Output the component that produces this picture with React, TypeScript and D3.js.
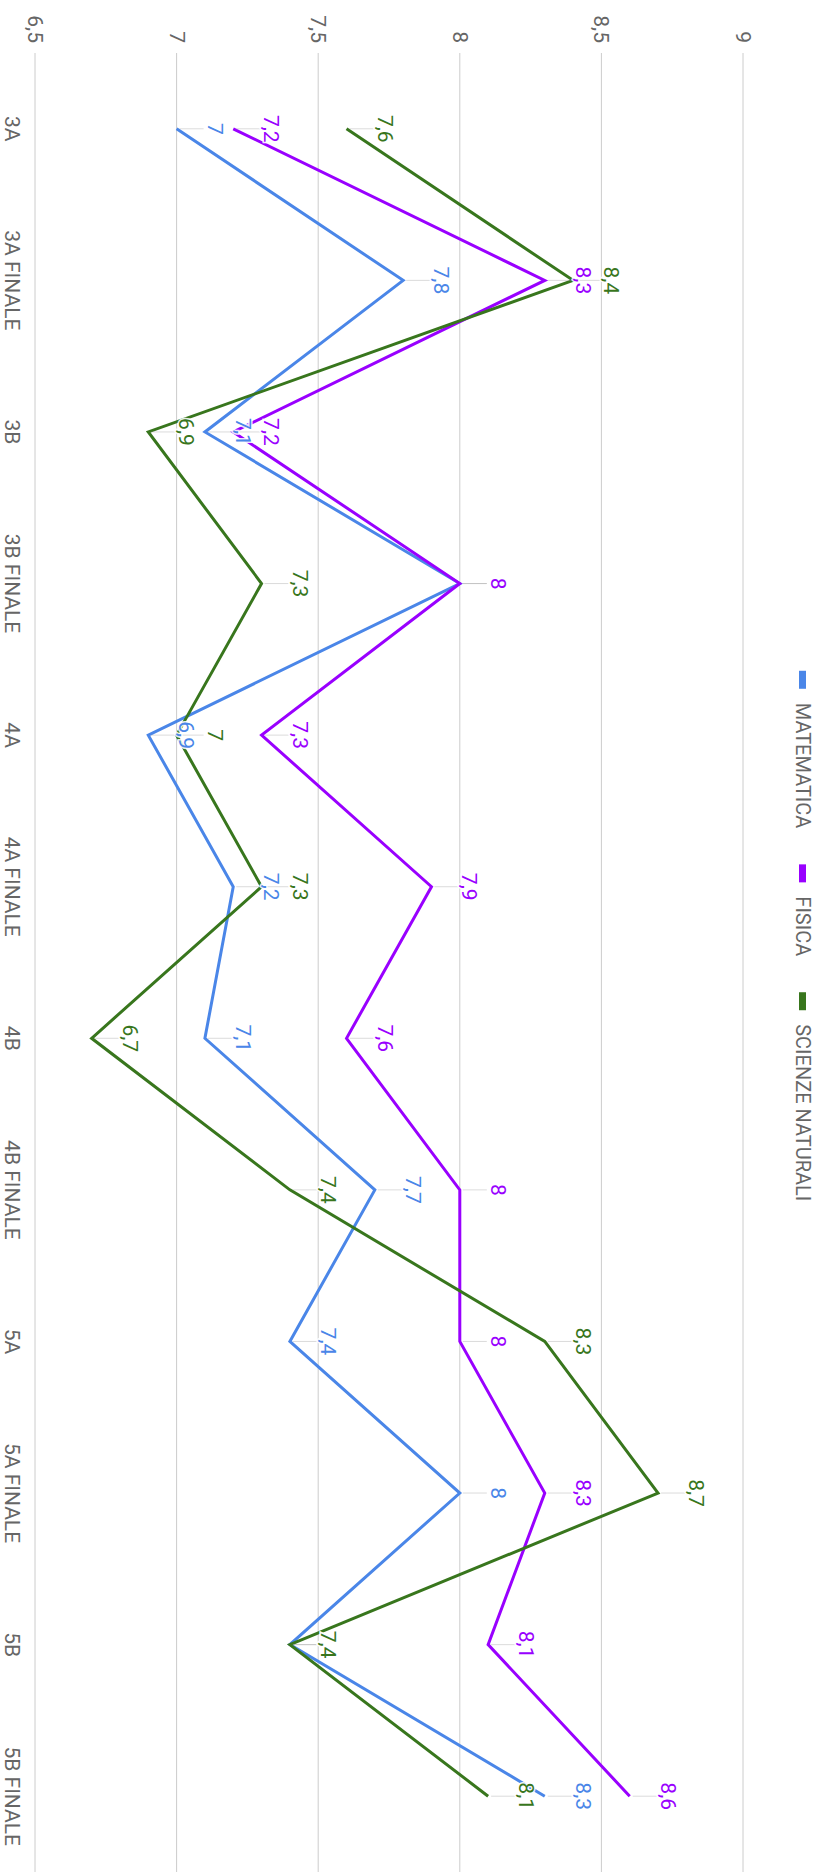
import React from 'react';
import * as d3 from 'd3';

const categories = ['3A', '3A FINALE', '3B', '3B FINALE', '4A', '4A FINALE', '4B', '4B FINALE', '5A', '5A FINALE', '5B', '5B FINALE'];
const matematica = [7, 7.8, 7.1, 8, 6.9, 7.2, 7.1, 7.7, 7.4, 8, 7.4, 8.3];
const fisica = [7.2, 8.3, 7.2, 8, 7.3, 7.9, 7.6, 8, 8, 8.3, 8.1, 8.6];
const scienze = [7.6, 8.4, 6.9, 7.3, 7, 7.3, 6.7, 7.4, 8.3, 8.7, 7.4, 8.1];
const seriesNames = ['MATEMATICA', 'FISICA', 'SCIENZE NATURALI'];
const seriesColors = ['#4a86e8', '#9900ff', '#38761d'];
const yTicks = [6.5, 7, 7.5, 8, 8.5, 9];

const FONT = 'Roboto, Arial, sans-serif';
const W = 1872; // original (unrotated) width
const H = 826;  // original (unrotated) height

const fmt = (v: number) => String(v).replace('.', ',');

function measure(text: string, size: number): number {
  try {
    const c = document.createElement('canvas').getContext('2d');
    if (c) {
      c.font = `${size}px Roboto`;
      return c.measureText(text).width;
    }
  } catch (e) {}
  return text.length * size * 0.6;
}

export default function App() {
  const series = [matematica, fisica, scienze];
  const x = d3.scalePoint<string>().domain(categories).range([53, W]).padding(0.5);
  const y = d3.scaleLinear().domain([6.5, 9]).range([791, 83]);
  const line = d3.line<number>().x((_, i) => x(categories[i]) as number).y((d) => y(d));

  // legend layout
  const legendSize = 20;
  const markerLen = 18;
  const markerGap = 14;
  const itemGap = 36;
  const widths = seriesNames.map((n) => measure(n, legendSize));
  const total = widths.reduce((a, b) => a + b, 0) + seriesNames.length * (markerLen + markerGap) + (seriesNames.length - 1) * itemGap;
  let cursor = W / 2 - total / 2;
  const legendItems = seriesNames.map((n, i) => {
    const start = cursor;
    cursor += markerLen + markerGap + widths[i] + itemGap;
    return { name: n, color: seriesColors[i], start };
  });

  return (
    <svg width={826} height={1872} style={{ position: 'absolute', left: 0, top: 0, background: '#fff' }}>
      <rect x={0} y={0} width={826} height={1872} fill="#fff" />
      <g transform={`translate(${H},0) rotate(90)`} fontFamily={FONT}>
        {/* gridlines */}
        {yTicks.map((t) => (
          <line key={'g' + t} x1={53} x2={W} y1={y(t)} y2={y(t)} stroke="#cccccc" strokeWidth={1} />
        ))}
        {/* y tick labels */}
        {yTicks.map((t) => (
          <text key={'t' + t} x={43} y={y(t)} textAnchor="end" dominantBaseline="central" fontSize={21} fill="#666">
            {fmt(t)}
          </text>
        ))}
        {/* category labels */}
        {categories.map((c) => (
          <text key={'c' + c} x={x(c)} y={821} textAnchor="middle" fontSize={21} fill="#666">
            {c}
          </text>
        ))}
        {/* series lines */}
        {series.map((s, i) => (
          <path key={'l' + i} d={line(s) || ''} fill="none" stroke={seriesColors[i]} strokeWidth={3} />
        ))}
        {/* annotation stems */}
        {series.map((s, i) =>
          s.map((v, j) => (
            <line key={'s' + i + '-' + j} x1={x(categories[j])} x2={x(categories[j])} y1={y(v) - 3} y2={y(v) - 27} stroke="#999" strokeOpacity={0.35} strokeWidth={1} />
          ))
        )}
        {/* annotations */}
        {series.map((s, i) =>
          s.map((v, j) => (
            <text
              key={'a' + i + '-' + j}
              x={x(categories[j])}
              y={y(v) - 31}
              textAnchor="middle"
              fontSize={21}
              fill={seriesColors[i]}
              stroke="#fff"
              strokeWidth={3}
              strokeOpacity={0.9}
              paintOrder="stroke"
            >
              {fmt(v)}
            </text>
          ))
        )}
        {/* legend */}
        {legendItems.map((it) => (
          <g key={'lg' + it.name}>
            <rect x={it.start} y={20} width={markerLen} height={7} fill={it.color} />
            <text x={it.start + markerLen + markerGap} y={23.5} dominantBaseline="central" fontSize={legendSize} fill="#666">
              {it.name}
            </text>
          </g>
        ))}
      </g>
    </svg>
  );
}
